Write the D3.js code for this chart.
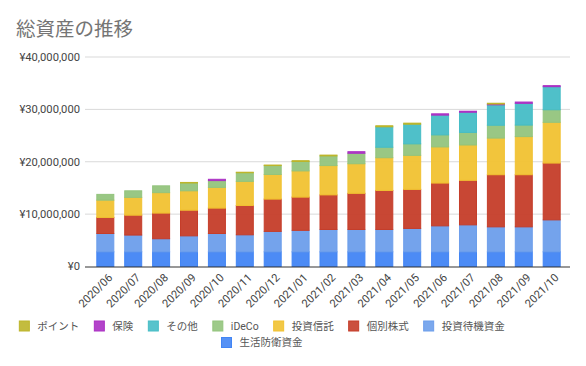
<!DOCTYPE html>
<html><head><meta charset="utf-8">
<script src="https://cdn.jsdelivr.net/npm/d3@7"></script>
<style>
html,body{margin:0;padding:0;background:#fff;}
svg{display:block;font-family:Roboto,"Noto Sans CJK JP",sans-serif;}
</style></head>
<body><svg id="c" width="586" height="366"></svg>
<script>
const months = ["2020/06","2020/07","2020/08","2020/09","2020/10","2020/11","2020/12","2021/01","2021/02","2021/03","2021/04","2021/05","2021/06","2021/07","2021/08","2021/09","2021/10"];
// values in yen, stacked bottom -> top
const seikatsu = [2800000,2800000,2800000,2800000,2800000,2800000,2800000,2800000,2800000,2800000,2800000,2800000,2800000,2800000,2800000,2800000,2800000];
const taiki    = [3500000,3200000,2500000,3050000,3500000,3250000,3900000,4100000,4270000,4270000,4270000,4470000,4960000,5150000,4770000,4770000,6100000];
const kobetsu  = [3070000,3800000,4900000,4900000,4850000,5600000,6170000,6350000,6600000,6900000,7450000,7450000,8170000,8500000,9950000,9950000,10850000];
const toshin   = [3300000,3400000,3900000,3700000,3950000,4600000,4700000,5000000,5600000,5650000,6250000,6500000,6900000,6750000,7000000,7280000,7780000];
const ideco    = [1100000,1250000,1300000,1500000,1300000,1650000,1700000,1800000,1850000,2000000,2000000,2200000,2300000,2400000,2450000,2200000,2400000];
const sonota   = [0,0,0,0,0,0,0,0,0,0,3900000,3750000,3770000,3850000,3900000,4150000,4400000];
const hoken    = [0,0,0,0,250000,0,0,0,0,300000,0,0,250000,200000,150000,250000,200000];
const point    = [0,0,0,100000,0,100000,100000,150000,150000,0,200000,200000,0,0,150000,0,0];
const yTicks = [0,10000000,20000000,30000000,40000000];

const seriesNames = ["生活防衛資金","投資待機資金","個別株式","投資信託","iDeCo","その他","保険","ポイント"];
const seriesVals = [seikatsu,taiki,kobetsu,toshin,ideco,sonota,hoken,point];
const colors = ["#4285F4","#6D9EEB","#C53D29","#F1C232","#93C47D","#46BDC6","#AB30C4","#BDB52A"];

const table = months.map((m,i)=>{const o={month:m};seriesNames.forEach((s,j)=>o[s]=seriesVals[j][i]);return o;});
const stack = d3.stack().keys(seriesNames)(table);

const svg = d3.select("#c");
const x = d3.scaleBand().domain(months).range([86,571]).paddingInner(0.355).paddingOuter(0.37);
const y = d3.scaleLinear().domain([0,40000000]).range([266.5,57]);

svg.append("text").attr("x",16).attr("y",36).attr("font-size",19.5).attr("fill","#757575")
  .attr("font-family","'Noto Sans CJK JP',sans-serif").text("総資産の推移");

// grid
svg.append("g").selectAll("line").data(yTicks.filter(d=>d>0)).join("line")
  .attr("x1",85).attr("x2",570).attr("y1",d=>y(d)).attr("y2",d=>y(d))
  .attr("stroke","#d9d9d9").attr("stroke-width",1);
svg.append("g").selectAll("text").data(yTicks).join("text")
  .attr("x",80).attr("y",d=>y(d)).attr("dy","0.35em").attr("text-anchor","end")
  .attr("font-size",11.2).attr("fill","#444")
  .text(d=>"¥"+d3.format(",")(d));

// bars
svg.append("g").selectAll("g").data(stack).join("g")
  .attr("fill",(d,i)=>colors[i]).attr("stroke",(d,i)=>colors[i])
  .selectAll("rect").data(d=>d.filter(p=>p[1]-p[0]>0)).join("rect")
  .attr("x",d=>x(d.data.month)+0.5).attr("width",x.bandwidth()-1)
  .attr("y",d=>y(d[1])).attr("height",d=>y(d[0])-y(d[1]))
  .attr("fill-opacity",0.95).attr("stroke-width",1);

// baseline
svg.append("line").attr("x1",85).attr("x2",570).attr("y1",y(0)+0.5).attr("y2",y(0)+0.5)
  .attr("stroke","#333").attr("stroke-width",1.2);

// x labels
svg.append("g").selectAll("text").data(months).join("text")
  .attr("transform",d=>`translate(${x(d)+x.bandwidth()/2+5},${y(0)+9}) rotate(-45)`)
  .attr("text-anchor","end").attr("dy","0.35em").attr("font-size",11.2).attr("fill","#444")
  .text(d=>d);

// legend
const legOrder = ["ポイント","保険","その他","iDeCo","投資信託","個別株式","投資待機資金","生活防衛資金"];
const rows = [legOrder.slice(0,7), legOrder.slice(7)];
const rowY = [326, 342.5];
const lg = svg.append("g");
rows.forEach((row,ri)=>{
  const g = lg.append("g");
  let cx = 0;
  row.forEach(name=>{
    const c = colors[seriesNames.indexOf(name)];
    g.append("rect").attr("x",cx).attr("y",rowY[ri]-5).attr("width",10).attr("height",10)
      .attr("fill",c).attr("fill-opacity",0.9).attr("stroke",c);
    const t = g.append("text").attr("x",cx+18).attr("y",rowY[ri]).attr("dy","0.35em")
      .attr("font-size",10.5).attr("fill","#555")
      .attr("font-family","Roboto,'Noto Sans CJK JP',sans-serif").text(name);
    cx += 18 + t.node().getComputedTextLength() + 15;
  });
  const w = cx - 15;
  g.attr("transform",`translate(${262 - w/2},0)`);
});
</script></body></html>
